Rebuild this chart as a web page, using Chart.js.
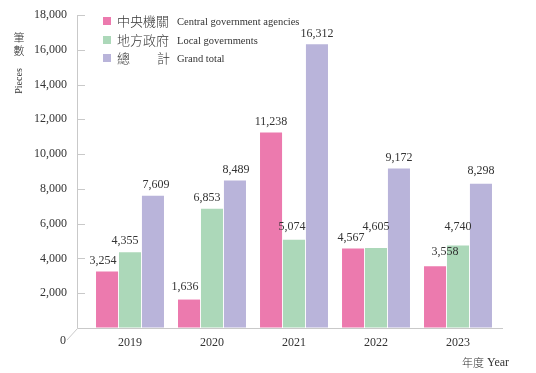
<!DOCTYPE html>
<html>
<head>
<meta charset="utf-8">
<script src="https://cdn.jsdelivr.net/npm/chart.js@4.4.0/dist/chart.umd.min.js"></script>
<style>
  html, body { margin: 0; padding: 0; background: #fff; }
  #wrap { width: 536px; height: 373px; }
</style>
</head>
<body>
<div id="wrap"><canvas id="chart" width="536" height="373"></canvas></div>
<script>
const years = ["2019", "2020", "2021", "2022", "2023"];
const centralAgencies = [3254, 1636, 11238, 4567, 3558];
const localGovernments = [4355, 6853, 5074, 4605, 4740];
const grandTotal = [7609, 8489, 16312, 9172, 8298];

const seriesZh = ["中央機關", "地方政府", "總計"];
const seriesEn = ["Central government agencies", "Local governments", "Grand total"];
const seriesColors = ["#ec7aae", "#acd8b9", "#b9b4da"];

const yTicks = [0, 2000, 4000, 6000, 8000, 10000, 12000, 14000, 16000, 18000];

// small hand nudges for the value labels [dx, dy] so they sit like the original
const labelNudge = [
  [[-4, 0], [-4, -2], [0, 0], [-2, 0], [10, -3]],
  [[-5, 0], [-5, 0], [-2, -2], [0, -10], [0, -8]],
  [[3, 0], [1, 0], [0, 0], [0, 0], [0, -2]]
];

const SERIF = "'Liberation Serif', 'Times New Roman', serif";
const CJK = "'Noto Sans CJK TC', 'Noto Sans CJK SC', sans-serif";
const TEXT = "#333333";
const AXIS = "#c9c9c9";

const fmt = (v) => Number(v).toLocaleString("en-US");

// axis frame with a slight 3D floor corner, like the original
const frame = {
  id: "frame",
  afterDraw(chart) {
    const { ctx, chartArea } = chart;
    const y = chart.scales.y;
    const x0 = chartArea.left - 12;
    const base = y.getPixelForValue(0);
    ctx.save();
    ctx.strokeStyle = AXIS;
    ctx.lineWidth = 1;
    ctx.beginPath();
    ctx.moveTo(x0 + 0.5, y.getPixelForValue(18000));
    ctx.lineTo(x0 + 0.5, base + 0.5);
    ctx.lineTo(chartArea.right + 4, base + 0.5);
    ctx.moveTo(x0 + 0.5, base + 0.5);
    ctx.lineTo(x0 - 10, base + 12);
    yTicks.forEach((t) => {
      if (t === 0) return;
      const py = Math.round(y.getPixelForValue(t)) + 0.5;
      ctx.moveTo(x0, py);
      ctx.lineTo(x0 + 8, py);
    });
    ctx.stroke();

    ctx.fillStyle = TEXT;
    ctx.font = "12px " + SERIF;
    ctx.textAlign = "center";
    ctx.textBaseline = "middle";
    ctx.fillText("0", x0 - 14, base + 13);

    // y title
    ctx.font = "300 11px " + CJK;
    ctx.fillText("筆", 19, 38);
    ctx.fillText("數", 19, 51);
    ctx.save();
    ctx.translate(19, 81);
    ctx.rotate(-Math.PI / 2);
    ctx.font = "10px " + SERIF;
    ctx.fillText("Pieces", 0, 0);
    ctx.restore();

    // x title
    ctx.textAlign = "left";
    ctx.font = "300 11px " + CJK;
    ctx.fillText("年度", 462, 363);
    ctx.font = "12px " + SERIF;
    ctx.fillText("Year", 487, 363);

    // legend
    const rows = [21, 40, 58];
    rows.forEach((ry, i) => {
      ctx.fillStyle = seriesColors[i];
      ctx.fillRect(103, ry - 4, 8, 8);
      ctx.fillStyle = TEXT;
      ctx.font = "300 13px " + CJK;
      if (i === 2) {
        ctx.fillText(seriesZh[i][0], 117, ry);
        ctx.fillText(seriesZh[i][1], 157, ry);
      } else {
        ctx.fillText(seriesZh[i], 117, ry);
      }
      ctx.font = "10.5px " + SERIF;
      ctx.fillText(seriesEn[i], 177, ry + 1);
    });
    ctx.restore();
  }
};

// value labels above each bar
const valueLabels = {
  id: "valueLabels",
  afterDatasetsDraw(chart) {
    const { ctx } = chart;
    ctx.save();
    ctx.fillStyle = TEXT;
    ctx.font = "12px " + SERIF;
    ctx.textAlign = "center";
    ctx.textBaseline = "middle";
    chart.data.datasets.forEach((ds, i) => {
      chart.getDatasetMeta(i).data.forEach((bar, j) => {
        const [dx, dy] = labelNudge[i][j];
        ctx.fillText(fmt(ds.data[j]), bar.x + dx, bar.y - 11 + dy);
      });
    });
    ctx.restore();
  }
};

new Chart(document.getElementById("chart"), {
  type: "bar",
  data: {
    labels: years,
    datasets: [
      { label: seriesEn[0], data: centralAgencies, backgroundColor: seriesColors[0] },
      { label: seriesEn[1], data: localGovernments, backgroundColor: seriesColors[1] },
      { label: seriesEn[2], data: grandTotal, backgroundColor: seriesColors[2] }
    ]
  },
  options: {
    responsive: false,
    animation: false,
    layout: { padding: { top: 15, right: 37, bottom: 0, left: 0 } },
    datasets: { bar: { categoryPercentage: 0.84, barPercentage: 0.96, borderWidth: 0 } },
    plugins: { legend: { display: false }, tooltip: { enabled: false } },
    scales: {
      x: {
        grid: { display: false, drawTicks: false },
        border: { display: false },
        ticks: { color: TEXT, font: { family: SERIF, size: 12 }, padding: 8 },
        afterFit(scale) { scale.height = 45; }
      },
      y: {
        min: 0,
        max: 18000,
        // invisible grid, only used to push the labels away from the axis
        grid: { display: true, drawOnChartArea: false, drawTicks: true, tickLength: 22, color: "rgba(0,0,0,0)" },
        border: { display: false },
        ticks: {
          stepSize: 2000,
          color: TEXT,
          font: { family: SERIF, size: 12 },
          padding: 0,
          callback: (v) => (v === 0 ? "" : fmt(v))
        },
        afterFit(scale) { scale.width = 89; }
      }
    }
  },
  plugins: [valueLabels, frame]
});
</script>
</body>
</html>
